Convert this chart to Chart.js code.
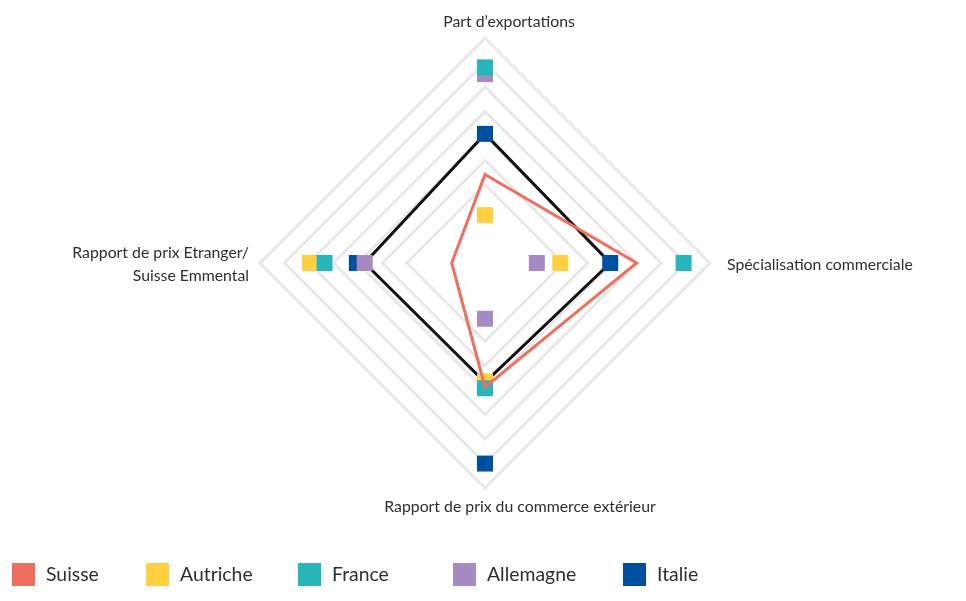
<!DOCTYPE html>
<html><head><meta charset="utf-8">
<script src="https://cdn.jsdelivr.net/npm/chart.js@4/dist/chart.umd.min.js"></script>
<style>html,body{margin:0;padding:0;background:#fff}#wrap{width:966px;height:601px;position:relative}canvas{display:block}</style>
</head><body><div id="wrap"><canvas id="c" width="966" height="601" style="width:966px;height:601px"></canvas></div>
<script>
// ---- data ----
const axisLabels = [["Part d’exportations"], ["Spécialisation commerciale"], ["Rapport de prix du commerce extérieur"], ["Rapport de prix Etranger/", "Suisse Emmental"]];
const seriesNames = ["Suisse", "Autriche", "France", "Allemagne", "Italie"];
const suisse    = [0.855, 1.50, 1.22, 0.29];
const autriche  = [0.44, 0.72, 1.16, 1.74];
const france    = [1.95, 1.98, 1.23, 1.59];
const allemagne = [1.88, 0.48, 0.52, 1.18];
const italie    = [1.27, 1.23, 2.00, 1.26];
const reference = [1.27, 1.23, 1.17, 1.18];
const gridValues = [0.75, 1.0, 1.25, 1.5, 1.75, 2.0, 2.25];
const scaleMin = -0.05, scaleMax = 2.25;

// ---- styles ----
const FONT = "Lato";
const TEXT = "#2e2e2e";
const colors = { Suisse: "#EF6F5E", Autriche: "#FFD042", France: "#27B6BA", Allemagne: "#A68BC2", Italie: "#0050A0" };

function markerSet(label, data, order) {
  return { label, data, order, showLine: false, fill: false,
    backgroundColor: colors[label], borderColor: colors[label],
    pointStyle: 'rect', pointRadius: 11.3, pointHoverRadius: 11.3,
    pointBackgroundColor: colors[label], pointBorderColor: colors[label], pointBorderWidth: 0 };
}

const axisLabelPlugin = {
  id: 'axisLabelPlugin',
  afterDraw(chart) {
    const s = chart.scales.r, ctx = chart.ctx;
    const cfg = [
      { d: 16, dx: 24, dy: 0, align: 'center' },
      { d: 17, dx: 0, dy: 2, align: 'left' },
      { d: 19, dx: 35, dy: 0, align: 'center' },
      { d: 11, dx: 0, dy: 1.5, align: 'right' }
    ];
    ctx.save();
    ctx.font = "15.8px " + FONT;
    ctx.fillStyle = TEXT;
    ctx.textBaseline = 'middle';
    chart.data.labels.forEach((lines, i) => {
      const c = cfg[i];
      const p = s.getPointPosition(i, s.drawingArea + c.d);
      ctx.textAlign = c.align;
      const lh = 23;
      const y0 = p.y + c.dy - (lines.length - 1) * lh / 2;
      lines.forEach((t, k) => ctx.fillText(t, p.x + c.dx, y0 + k * lh));
    });
    ctx.restore();
  }
};

const legendPlugin = {
  id: 'legendPlugin',
  afterDraw(chart) {
    const ctx = chart.ctx;
    const xs = [12, 146, 298, 453, 623];
    ctx.save();
    ctx.font = "19.4px " + FONT;
    ctx.textBaseline = 'middle';
    ctx.textAlign = 'left';
    seriesNames.forEach((name, i) => {
      const ds = chart.data.datasets.find(d => d.label === name);
      ctx.fillStyle = ds.backgroundColor;
      ctx.fillRect(xs[i], 563, 23, 23);
      ctx.fillStyle = TEXT;
      ctx.fillText(name, xs[i] + 34, 575);
    });
    ctx.restore();
  }
};

new Chart(document.getElementById('c'), {
  type: 'radar',
  data: {
    labels: axisLabels,
    datasets: [
      { label: "Suisse", data: suisse, order: 0, fill: false, borderColor: colors.Suisse, backgroundColor: colors.Suisse,
        borderWidth: 3, pointRadius: 0, pointHoverRadius: 0, tension: 0 },
      markerSet("Autriche", autriche, 2),
      markerSet("France", france, 1),
      markerSet("Allemagne", allemagne, 3),
      markerSet("Italie", italie, 4),
      { label: "", data: reference, order: 5, fill: false, borderColor: "#111111", backgroundColor: "#111111",
        borderWidth: 3, pointRadius: 0, pointHoverRadius: 0, tension: 0 }
    ]
  },
  options: {
    responsive: false, maintainAspectRatio: false, devicePixelRatio: 1, animation: false, events: [],
    layout: { padding: { left: 4, right: 0, top: 38, bottom: 113 } },
    plugins: { legend: { display: false }, tooltip: { enabled: false } },
    scales: {
      r: {
        min: scaleMin, max: scaleMax,
        afterBuildTicks: (s) => { s.ticks = [{ value: scaleMin }].concat(gridValues.map(v => ({ value: v }))); },
        ticks: { display: false },
        angleLines: { display: false },
        pointLabels: { display: false },
        grid: { circular: false, lineWidth: 3, color: (c) => (c.tick && c.tick.value >= 0.5) ? '#E8E8E8' : 'rgba(0,0,0,0)' }
      }
    }
  },
  plugins: [axisLabelPlugin, legendPlugin]
});
</script>
</body></html>
